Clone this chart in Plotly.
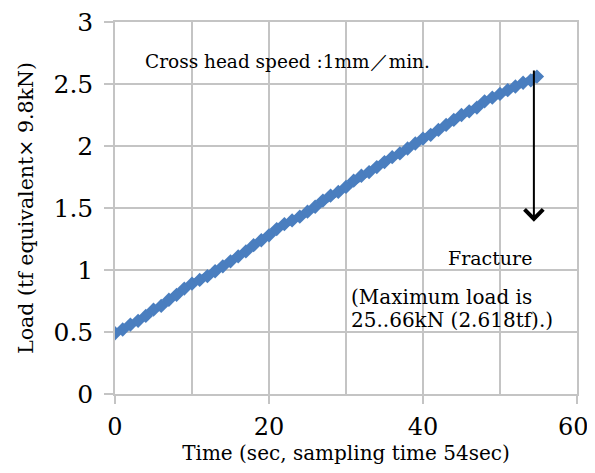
import plotly.graph_objects as go

time_s = [0, 1, 2, 3, 4, 5, 6, 7, 8, 9, 10, 11, 12, 13, 14, 15, 16, 17, 18, 19,
          20, 21, 22, 23, 24, 25, 26, 27, 28, 29, 30, 31, 32, 33, 34, 35, 36, 37,
          38, 39, 40, 41, 42, 43, 44, 45, 46, 47, 48, 49, 50, 51, 52, 53, 54, 54.8]
load_tf = [0.49, 0.52, 0.56, 0.59, 0.63, 0.68, 0.71, 0.76, 0.80, 0.85, 0.89, 0.92,
           0.95, 0.99, 1.03, 1.07, 1.11, 1.15, 1.20, 1.24, 1.28, 1.33, 1.37, 1.40,
           1.43, 1.47, 1.51, 1.56, 1.60, 1.63, 1.67, 1.72, 1.76, 1.79, 1.83, 1.87,
           1.91, 1.94, 1.98, 2.02, 2.06, 2.09, 2.13, 2.17, 2.21, 2.25, 2.28, 2.31,
           2.36, 2.39, 2.42, 2.45, 2.48, 2.51, 2.53, 2.56]

x_ticks = [0, 20, 40, 60]
x_tick_text = ["0", "20", "40", "60"]
y_ticks = [0, 0.5, 1, 1.5, 2, 2.5, 3]
y_tick_text = ["0", "0.5", "1", "1.5", "2", "2.5", "3"]

FONT = "DejaVu Serif"
GRID = "#c4c4c4"
BLUE = "#4a7ebf"

# last x label is nudged left with a trailing space so it is not cut at the page edge
x_tick_disp = x_tick_text[:-1] + [x_tick_text[-1] + "&nbsp;"]

fig = go.Figure()
fig.add_trace(go.Scatter(
    x=time_s, y=load_tf, mode="lines+markers",
    line=dict(color=BLUE, width=7),
    marker=dict(symbol="diamond", size=11, color=BLUE),
    showlegend=False,
))

fig.add_annotation(x=54.4, y=1.39, ax=54.4, ay=2.62, xref="x", yref="y",
                   axref="x", ayref="y", showarrow=True, arrowhead=4,
                   arrowsize=1.8, arrowwidth=2, arrowcolor="black", text="")
fig.add_annotation(x=3.6, y=2.68, xref="x", yref="y", xanchor="left",
                   text="Cross head speed :1mm／min.", showarrow=False,
                   font=dict(family=FONT, size=18.5, color="black"))
fig.add_annotation(x=48.7, y=1.10, xref="x", yref="y", xanchor="center",
                   text="Fracture", showarrow=False,
                   font=dict(family=FONT, size=19, color="black"))
fig.add_annotation(x=30.4, y=0.78, xref="x", yref="y", xanchor="left",
                   text="(Maximum load is", showarrow=False,
                   font=dict(family=FONT, size=20, color="black"))
fig.add_annotation(x=30.4, y=0.60, xref="x", yref="y", xanchor="left",
                   text="25..66kN (2.618tf).)", showarrow=False,
                   font=dict(family=FONT, size=20, color="black"))

# the page body adds an 8px offset, so the figure is sized/margined to compensate
fig.update_layout(
    width=587, height=457,
    margin=dict(l=107, r=18, t=14, b=71),
    paper_bgcolor="white", plot_bgcolor="white",
    font=dict(family=FONT, color="black"),
    xaxis=dict(
        range=[0, 60], tickvals=x_ticks, ticktext=x_tick_disp, ticks="outside",
        ticklen=8, tickcolor=GRID, tickwidth=1.5, automargin=False,
        ticklabeloverflow="allow",
        showgrid=True, gridcolor=GRID, gridwidth=1.5,
        minor=dict(dtick=10, tick0=0, showgrid=True, gridcolor=GRID, gridwidth=1.5),
        showline=True, linecolor=GRID, linewidth=1.5, mirror=True,
        tickfont=dict(family=FONT, size=24), ticklabelstandoff=2,
        title=dict(text="Time (sec, sampling time 54sec)",
                   font=dict(family=FONT, size=20), standoff=6),
        zeroline=False,
    ),
    yaxis=dict(
        range=[0, 3], tickvals=y_ticks, ticktext=y_tick_text, ticks="outside",
        ticklen=9, tickcolor=GRID, tickwidth=1.5, automargin=False,
        ticklabeloverflow="allow",
        showgrid=True, gridcolor=GRID, gridwidth=1.5,
        showline=True, linecolor=GRID, linewidth=1.5, mirror=True,
        tickfont=dict(family=FONT, size=25), ticklabelstandoff=6,
        title=dict(text="Load (tf equivalent× 9.8kN)",
                   font=dict(family=FONT, size=20.5), standoff=14),
        zeroline=False,
    ),
)

fig.write_html("out.html")
